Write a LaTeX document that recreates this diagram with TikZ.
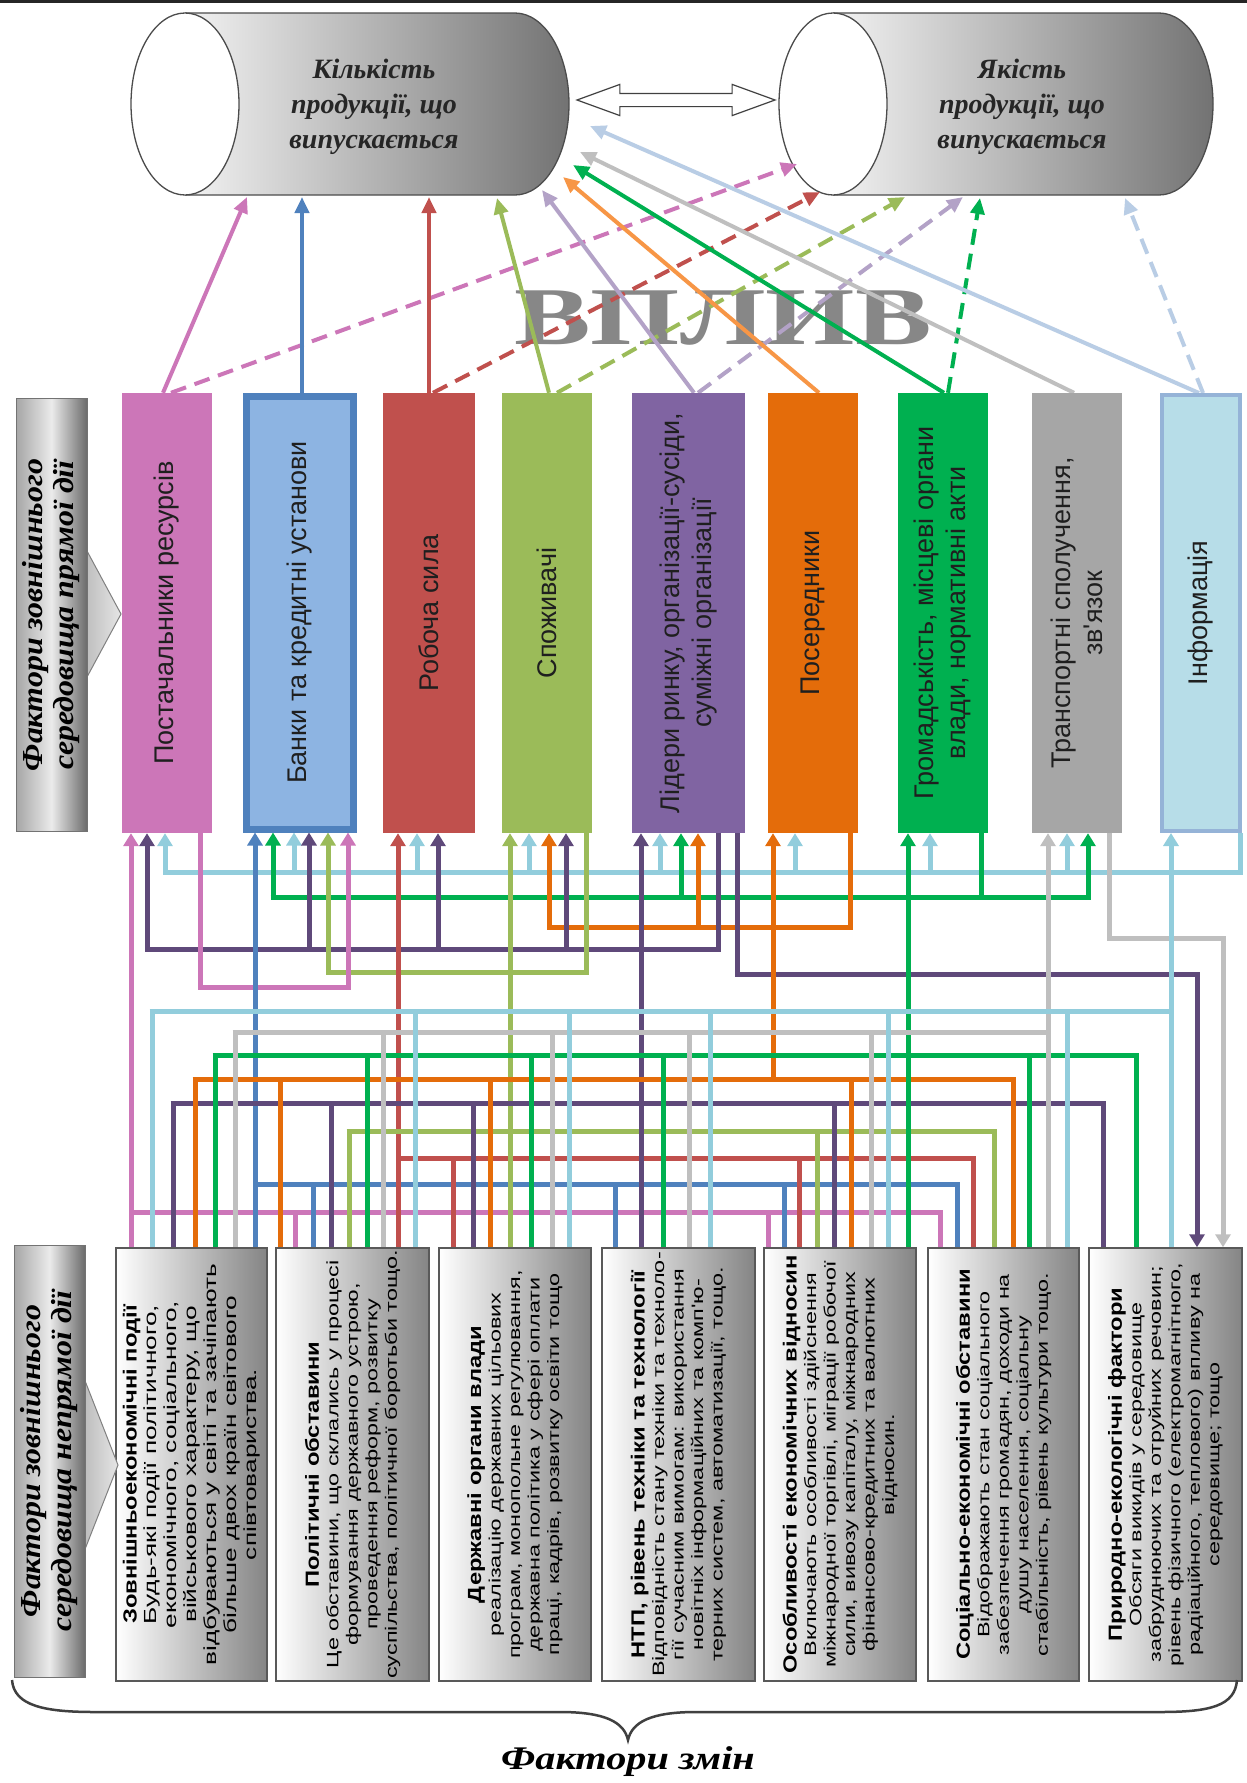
\documentclass[tikz,border=0pt]{standalone}
\usepackage{fontspec}
\setmainfont{Liberation Serif}
\newfontfamily\sansf{Liberation Sans}
\newfontfamily\bodyf[FakeStretch=1.42]{Liberation Sans}
\newfontfamily\bodyfb[FakeStretch=1.5]{Liberation Sans}
\newfontfamily\titlef[FakeStretch=1.25]{Liberation Sans}
\newfontfamily\lblf[FakeStretch=1.1]{Liberation Serif}
\newfontfamily\bigf[FakeStretch=1.22]{Liberation Serif}
\newfontfamily\vplf[FakeStretch=1.4]{Liberation Serif}
\usetikzlibrary{arrows.meta,shapes.arrows}
\definecolor{cpink}{RGB}{204,118,184}
\definecolor{cblue}{RGB}{79,129,189}
\definecolor{cbluefill}{RGB}{141,180,226}
\definecolor{cred}{RGB}{192,80,77}
\definecolor{colive}{RGB}{155,187,89}
\definecolor{cpurple}{RGB}{128,100,162}
\definecolor{cdpurple}{RGB}{95,73,122}
\definecolor{clav}{RGB}{179,162,199}
\definecolor{corange}{RGB}{228,108,10}
\definecolor{clorange}{RGB}{247,150,70}
\definecolor{cgreen}{RGB}{0,176,80}
\definecolor{cgray}{RGB}{166,166,166}
\definecolor{clgray}{RGB}{191,191,191}
\definecolor{cinfo}{RGB}{183,221,232}
\definecolor{cinfob}{RGB}{149,179,215}
\definecolor{clblue}{RGB}{146,205,220}
\definecolor{cpale}{RGB}{185,205,229}
\tikzset{
  w/.style={line width=5pt},
  arr/.style={-{Triangle[length=13pt,width=15pt]}},
  tarr/.style={line width=4pt,-{Triangle[length=16pt,width=14pt]}},
  dsh/.style={dash pattern=on 16pt off 9pt},
  mbox/.style={minimum width=90pt, minimum height=440pt, inner sep=0pt},
  mtext/.style={rotate=90, align=center, font=\sansf\fontsize{27}{32}\selectfont, text=black!88},
  bbox/.style={draw=black!65, line width=1.5pt, minimum width=151pt, minimum height=433pt, inner sep=0pt, left color=white, right color=black!48},
  btext/.style={rotate=90, align=center, font=\bodyf\fontsize{16.5}{19.5}\selectfont},
  lbl/.style={draw=black!55, line width=1pt, minimum width=71pt, minimum height=433pt, inner sep=0pt, left color=black!35, right color=black!58, middle color=black!8},
  ltext/.style={rotate=90, align=center, font=\lblf\bfseries\itshape\fontsize{29}{31}\selectfont},
  cyltext/.style={align=center, font=\bfseries\itshape\fontsize{28}{35}\selectfont, text=black!85},
}
\newcommand{\ttlf}{\titlef\bfseries\fontsize{19}{20}\selectfont}
\begin{document}
\begin{tikzpicture}[x=1pt,y=-1pt]
\useasboundingbox (0,0) rectangle (1247,1783);
\fill[white] (0,0) rectangle (1247,1783);
\draw[line width=3pt,black!85] (0,1.5) -- (1247,1.5);

% ---------- cylinders ----------
\shade[left color=black!5, right color=black!55] (185,13) -- (515,13) arc[start angle=-90,end angle=90,x radius=54,y radius=91] -- (185,195) -- cycle;
\draw[black!70,line width=1.3pt] (185,13) -- (515,13) arc[start angle=-90,end angle=90,x radius=54,y radius=91] -- (185,195);
\draw[black!70,line width=1.3pt,fill=white] (185,104) ellipse[x radius=54,y radius=91];
\node[cyltext] (qty) at (374,107) {Кількість\\продукції, що\\випускається};

\shade[left color=black!5, right color=black!55] (833,13) -- (1159,13) arc[start angle=-90,end angle=90,x radius=54,y radius=91] -- (833,195) -- cycle;
\draw[black!70,line width=1.3pt] (833,13) -- (1159,13) arc[start angle=-90,end angle=90,x radius=54,y radius=91] -- (833,195);
\draw[black!70,line width=1.3pt,fill=white] (833,104) ellipse[x radius=54,y radius=91];
\node[cyltext] (qlt) at (1022,107) {Якість\\продукції, що\\випускається};

\node[double arrow, draw=black!75, fill=white, line width=1.2pt, minimum height=198pt, minimum width=30pt, double arrow head extend=9pt, double arrow tip angle=40, inner sep=6pt] (dbl) at (676,100) {};

% ---------- ВПЛИВ ----------
\node[font=\vplf\bfseries\fontsize{82}{82}\selectfont, text=black!47, draw=none] (vpl) at (723,318) {ВПЛИВ};

% ---------- middle boxes ----------
\node[mbox, fill=cpink] (m1) at (167,613) {};
\node[mbox, minimum width=107pt, minimum height=433pt, fill=cbluefill, draw=cblue, line width=7pt] (m2) at (300,612.5) {};
\node[mbox, minimum width=92pt, fill=cred] (m3) at (429,613) {};
\node[mbox, fill=colive] (m4) at (547,613) {};
\node[mbox, minimum width=113pt, fill=cpurple] (m5) at (688.5,613) {};
\node[mbox, fill=corange] (m6) at (813,613) {};
\node[mbox, fill=cgreen] (m7) at (943,613) {};
\node[mbox, fill=cgray] (m8) at (1077,613) {};
\node[mbox, minimum width=78pt, minimum height=436pt, fill=cinfo, draw=cinfob, line width=4pt] (m9) at (1201,613) {};

% ---------- top arrows ----------
\coordinate (e1) at (247,197);
\coordinate (e2) at (302,197);
\coordinate (e3) at (429,197);
\coordinate (e4) at (497,198);
\coordinate (e5) at (542,190);
\coordinate (e6) at (563,177);
\coordinate (e7) at (573,165);
\coordinate (e8) at (580,152);
\coordinate (e9) at (590,126);
\coordinate (f1) at (797,164);
\coordinate (f3) at (820,192);
\coordinate (f4) at (905,197);
\coordinate (f5) at (963,197);
\coordinate (f7) at (980,198);
\coordinate (f9) at (1125,198);
\draw[tarr,cpink] (163,0 |- m1.north) -- (e1);
\draw[tarr,cpink,dsh] (171,0 |- m1.north) -- (f1);
\draw[tarr,cblue] (302,0 |- m2.north) -- (e2);
\draw[tarr,cred] (429,0 |- m3.north) -- (e3);
\draw[tarr,cred,dsh] (433,0 |- m3.north) -- (f3);
\draw[tarr,colive] (549,0 |- m4.north) -- (e4);
\draw[tarr,colive,dsh] (557,0 |- m4.north) -- (f4);
\draw[tarr,clav] (694,0 |- m5.north) -- (e5);
\draw[tarr,clav,dsh] (698,0 |- m5.north) -- (f5);
\draw[tarr,clorange] (819,0 |- m6.north) -- (e6);
\draw[tarr,cgreen] (944,0 |- m7.north) -- (e7);
\draw[tarr,cgreen,dsh] (948,0 |- m7.north) -- (f7);
\draw[tarr,clgray] (1074,0 |- m8.north) -- (e8);
\draw[tarr,cpale] (1199,0 |- m9.north) -- (e9);
\draw[tarr,cpale,dsh] (1203,0 |- m9.north) -- (f9);

% ---------- bottom boxes (placed first for anchors) ----------
\node[bbox] (b1) at (191.5,1464.5) {};
\node[bbox, minimum width=153pt] (b2) at (352.5,1464.5) {};
\node[bbox, minimum width=152pt] (b3) at (515,1464.5) {};
\node[bbox, minimum width=153pt] (b4) at (678.5,1464.5) {};
\node[bbox, minimum width=152pt] (b5) at (840,1464.5) {};
\node[bbox] (b6) at (1003.5,1464.5) {};
\node[bbox, minimum width=153pt] (b7) at (1165.5,1464.5) {};

% ---------- upper wiring ----------
\draw[w,clblue] (1240,0 |- m9.south) -- (1240,872) -- (162.5,872);
\foreach \x/\mm in {165/m1,294/m2,417/m3,529/m4,660/m5,795/m6,930/m7,1067/m8}
  \draw[w,clblue,arr] (\x,872) -- (\x,0 |- \mm.south);
\draw[w,cgreen] (981,0 |- m7.south) -- (981,897);
\draw[w,cgreen] (270.5,897) -- (1090.5,897);
\foreach \x/\mm in {273/m2,681/m5,1088/m8}
  \draw[w,cgreen,arr] (\x,897) -- (\x,0 |- \mm.south);
\draw[w,corange] (850,0 |- m6.south) -- (850,927) -- (546.5,927);
\foreach \x/\mm in {549/m4,698/m5}
  \draw[w,corange,arr] (\x,927) -- (\x,0 |- \mm.south);
\draw[w,cdpurple] (718,0 |- m5.south) -- (718,949) -- (144.5,949);
\foreach \x/\mm in {147/m1,309/m2,438/m3,566/m4}
  \draw[w,cdpurple,arr] (\x,949) -- (\x,0 |- \mm.south);
\draw[w,cdpurple,arr] (737,0 |- m5.south) -- (737,974) -- (1197,974) -- (1197,0 |- b7.north);
\draw[w,colive,arr] (586,0 |- m4.south) -- (586,972) -- (328,972) -- (328,0 |- m2.south);
\draw[w,cpink,arr] (200,0 |- m1.south) -- (200,987) -- (348,987) -- (348,0 |- m2.south);
\draw[w,clgray,arr] (1109,0 |- m8.south) -- (1109,938) -- (1223,938) -- (1223,0 |- b7.north);

% ---------- lower wiring ----------
% pink
\draw[w,cpink] (131,1212) -- (942.5,1212);
\foreach \x/\bb in {295/b2,768/b5,940/b6} \draw[w,cpink] (\x,1212) -- (\x,0 |- \bb.north);
\draw[w,cpink,arr] (131,0 |- b1.north) -- (131,0 |- m1.south);
% blue
\draw[w,cblue] (255,1184) -- (959.5,1184);
\foreach \x/\bb in {313/b2,615/b4,784/b5,957/b6} \draw[w,cblue] (\x,1184) -- (\x,0 |- \bb.north);
\draw[w,cblue,arr] (255,0 |- b1.north) -- (255,0 |- m2.south);
% red
\draw[w,cred] (398,1158) -- (975.5,1158);
\foreach \x/\bb in {453/b3,799/b5,973/b6} \draw[w,cred] (\x,1158) -- (\x,0 |- \bb.north);
\draw[w,cred,arr] (398,0 |- b2.north) -- (398,0 |- m3.south);
% olive
\draw[w,colive] (346.5,1131) -- (996.5,1131);
\foreach \x/\bb in {349/b2,817/b5,994/b6} \draw[w,colive] (\x,1131) -- (\x,0 |- \bb.north);
\draw[w,colive,arr] (510,0 |- b3.north) -- (510,0 |- m4.south);
% purple
\draw[w,cdpurple] (170.5,1103) -- (1105.5,1103);
\foreach \x/\bb in {173/b1,331/b2,473/b3,834/b5,1103/b7} \draw[w,cdpurple] (\x,1103) -- (\x,0 |- \bb.north);
\draw[w,cdpurple,arr] (641,0 |- b4.north) -- (641,0 |- m5.south);
% orange
\draw[w,corange] (192.5,1079) -- (1015.5,1079);
\foreach \x/\bb in {195/b1,280/b2,490/b3,851/b5,1013/b6} \draw[w,corange] (\x,1079) -- (\x,0 |- \bb.north);
\draw[w,corange,arr] (773,1081.5) -- (773,0 |- m6.south);
% green
\draw[w,cgreen] (212.5,1055) -- (1138.5,1055);
\foreach \x/\bb in {215/b1,367/b2,531/b3,663/b4,1029/b6,1136/b7} \draw[w,cgreen] (\x,1055) -- (\x,0 |- \bb.north);
\draw[w,cgreen,arr] (908,0 |- b5.north) -- (908,0 |- m7.south);
% gray
\draw[w,clgray] (232.5,1032) -- (1048,1032);
\foreach \x/\bb in {235/b1,383/b2,552/b3,689/b4,871/b5} \draw[w,clgray] (\x,1032) -- (\x,0 |- \bb.north);
\draw[w,clgray,arr] (1048,0 |- b6.north) -- (1048,0 |- m8.south);
% light blue
\draw[w,clblue] (149.5,1011) -- (1171,1011);
\foreach \x/\bb in {152/b1,415/b2,569/b3,710/b4,888/b5,1067/b6} \draw[w,clblue] (\x,1011) -- (\x,0 |- \bb.north);
\draw[w,clblue,arr] (1171,0 |- b7.north) -- (1171,0 |- m9.south);

% ---------- redraw boxes on top ----------
\node[mbox, fill=cpink] at (m1.center) {};
\node[mtext] (t1) at (m1.center) {Постачальники ресурсів};
\node[mbox, minimum width=107pt, minimum height=433pt, fill=cbluefill, draw=cblue, line width=7pt] at (m2.center) {};
\node[mtext] (t2) at (m2.center) {Банки та кредитні установи};
\node[mbox, minimum width=92pt, fill=cred] at (m3.center) {};
\node[mtext] (t3) at (m3.center) {Робоча сила};
\node[mbox, fill=colive] at (m4.center) {};
\node[mtext] (t4) at (m4.center) {Споживачі};
\node[mbox, minimum width=113pt, fill=cpurple] at (m5.center) {};
\node[mtext] (t5) at (m5.center) {Лідери ринку, організації-сусіди,\\суміжні організації};
\node[mbox, fill=corange] at (m6.center) {};
\node[mtext] (t6) at (m6.center) {Посередники};
\node[mbox, fill=cgreen] at (m7.center) {};
\node[mtext] (t7) at (m7.center) {Громадськість, місцеві органи\\влади, нормативні акти};
\node[mbox, fill=cgray] at (m8.center) {};
\node[mtext] (t8) at (m8.center) {Транспортні сполучення,\\зв'язок};
\node[mbox, minimum width=78pt, minimum height=436pt, fill=cinfo, draw=cinfob, line width=4pt] at (m9.center) {};
\node[mtext] (t9) at (m9.center) {Інформація};

\node[bbox] at (b1.center) {};
\node[bbox, minimum width=153pt] at (b2.center) {};
\node[bbox, minimum width=152pt] at (b3.center) {};
\node[bbox, minimum width=153pt] at (b4.center) {};
\node[bbox, minimum width=152pt] at (b5.center) {};
\node[bbox] at (b6.center) {};
\node[bbox, minimum width=153pt] at (b7.center) {};

\node[btext, font=\bodyfb\fontsize{17.5}{20}\selectfont] (bt1) at (b1.center) {{\ttlf Зовнішньоекономічні події}\\Будь-які події політичного,\\економічного, соціального,\\військового характеру, що\\відбуваються у світі та зачіпають\\більше двох країн світового\\співтовариства.};
\node[btext] (bt2) at (b2.center) {{\ttlf Політичні обставини}\\Це обставини, що склались у процесі\\формування державного устрою,\\проведення реформ, розвитку\\суспільства, політичної боротьби тощо.};
\node[btext] (bt3) at (b3.center) {{\ttlf Державні органи влади}\\реалізацію державних цільових\\програм, монопольне регулювання,\\державна політика у сфері оплати\\праці, кадрів, розвитку освіти тощо};
\node[btext] (bt4) at (b4.center) {{\ttlf НТП, рівень техніки та технології}\\Відповідність стану техніки та техноло-\\гії сучасним вимогам: використання\\новітніх інформаційних та комп'ю-\\терних систем, автоматизації, тощо.};
\node[btext] (bt5) at (b5.center) {{\ttlf Особливості економічних відносин}\\Включають особливості здійснення\\міжнародної торгівлі, міграції робочої\\сили, вивозу капіталу, міжнародних\\фінансово-кредитних та валютних\\відносин.};
\node[btext] (bt6) at (b6.center) {{\ttlf Соціально-економічні обставини}\\Відображають стан соціального\\забезпечення громадян, доходи на\\душу населення, соціальну\\стабільність, рівень культури тощо.};
\node[btext] (bt7) at (b7.center) {{\ttlf Природно-екологічні фактори}\\Обсяги викидів у середовище\\забруднюючих та отруйних речовин;\\рівень фізичного (електромагнітного,\\радіаційного, теплового) впливу на\\середовище; тощо};

% ---------- left labels ----------
\shade[left color=black!28, right color=black!10, draw=black!50, line width=1pt] (80,538) -- (121,614) -- (80,690) -- cycle;
\node[lbl] (L1) at (51.5,615) {};
\node[ltext] (L1t) at (L1.center) {Фактори зовнішнього\\середовища прямої дії};
\shade[left color=black!28, right color=black!10, draw=black!50, line width=1pt] (80,1368) -- (118,1465) -- (80,1562) -- cycle;
\node[lbl, minimum height=432pt] (L2) at (49.5,1461) {};
\node[ltext] (L2t) at (L2.center) {Фактори зовнішнього\\середовища непрямої дії};

% ---------- brace ----------
\draw[line width=2.5pt, black!75] (12,1680) .. controls (14,1706) and (45,1712) .. (95,1712) -- (560,1712) .. controls (605,1712) and (624,1722) .. (628,1740) .. controls (632,1722) and (651,1712) .. (696,1712) -- (1160,1712) .. controls (1210,1712) and (1235,1706) .. (1237,1680);
\node[font=\bigf\bfseries\itshape\fontsize{33}{36}\selectfont] (fz) at (628,1762) {Фактори змін};
\end{tikzpicture}
\end{document}
